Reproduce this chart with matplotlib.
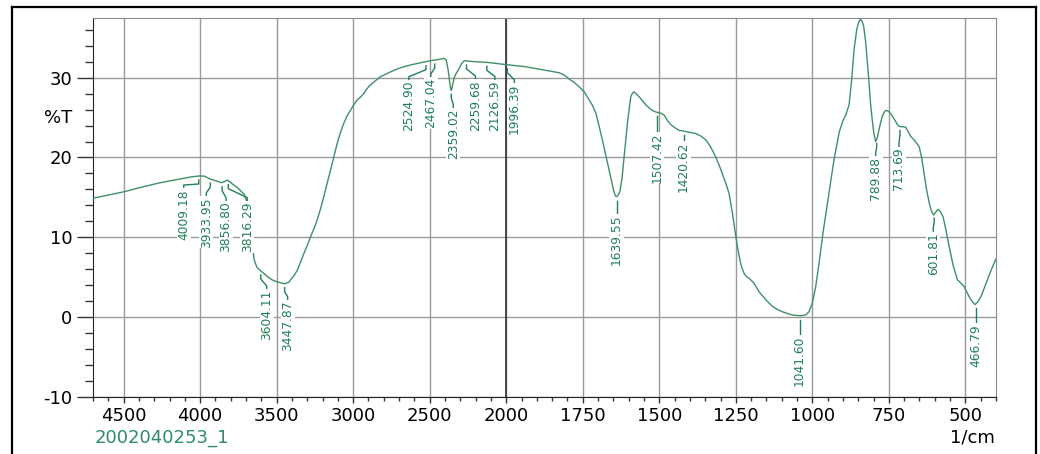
import numpy as np
import matplotlib
matplotlib.use('Agg')
import matplotlib.pyplot as plt
from matplotlib.lines import Line2D

# FTIR spectrum (wavenumber 1/cm, %T)
wavenumber = [4700, 4600, 4500, 4400, 4260, 4150, 4050, 4000, 3970, 3934,
              3900, 3870, 3857, 3840, 3825, 3816, 3790, 3755, 3712, 3686,
              3666, 3656, 3647, 3630, 3604, 3590, 3560, 3530, 3500, 3460,
              3448, 3420, 3409, 3387, 3365, 3344, 3322, 3300, 3278, 3256,
              3235, 3213, 3192, 3170, 3148, 3126, 3104, 3082, 3061, 3040,
              3018, 2996, 2974, 2950, 2931, 2910, 2887, 2855, 2822, 2790,
              2757, 2715, 2670, 2620, 2572, 2496, 2431, 2405, 2392, 2380,
              2370, 2363, 2359, 2352, 2340, 2325, 2311, 2290, 2274, 2214,
              2127, 2060, 1996, 1936, 1870, 1827, 1810, 1794, 1778, 1762,
              1745, 1729, 1718, 1707, 1697, 1686, 1675, 1664, 1655, 1648,
              1643, 1640, 1636, 1629, 1622, 1616, 1610, 1604, 1598, 1593,
              1587, 1582, 1575, 1566, 1555, 1544, 1533, 1523, 1512, 1501,
              1492, 1484, 1473, 1462, 1448, 1435, 1420, 1408, 1395, 1381,
              1365, 1348, 1332, 1316, 1300, 1283, 1272, 1261, 1250, 1240,
              1232, 1223, 1215, 1207, 1199, 1191, 1174, 1152, 1131, 1115,
              1098, 1082, 1066, 1052, 1038, 1022, 1011, 1000, 989, 978,
              964, 950, 940, 928, 912, 900, 890, 880, 872, 864,
              855, 848, 842, 836, 832, 826, 821, 815, 810, 804,
              799, 793, 789, 785, 778, 772, 765, 759, 752, 744,
              736, 728, 720, 712, 703, 695, 678, 665, 651, 643,
              635, 627, 618, 610, 604, 596, 590, 586, 580, 573,
              565, 553, 540, 526, 515, 504, 488, 478, 469, 460,
              449, 440, 428, 417, 406, 400]
transmittance = [14.9, 15.3, 15.7, 16.2, 16.85, 17.25, 17.6, 17.7, 17.65, 17.3,
                 17.1, 16.9, 16.85, 17.0, 17.15, 17.1, 16.7, 16.2, 15.4, 14.0,
                 11.5, 8.6, 7.2, 6.3, 5.8, 5.6, 5.1, 4.7, 4.45, 4.25,
                 4.2, 4.4, 4.7, 5.2, 5.9, 6.9, 8.0, 9.0, 10.1, 11.1,
                 12.2, 13.6, 15.1, 16.8, 18.4, 20.1, 21.8, 23.2, 24.3, 25.2,
                 25.9, 26.6, 27.2, 27.6, 28.0, 28.6, 29.1, 29.6, 30.1, 30.4,
                 30.7, 31.05, 31.35, 31.6, 31.8, 32.1, 32.3, 32.4, 32.2, 31.0,
                 29.5, 28.6, 28.4, 28.9, 30.0, 30.6, 31.0, 31.8, 32.1, 32.0,
                 31.9, 31.75, 31.6, 31.35, 30.9, 30.6, 30.3, 29.8, 29.4, 28.85,
                 28.2, 27.2, 26.5, 25.5, 24.0, 22.2, 20.3, 18.4, 16.8, 15.7,
                 15.2, 15.1, 15.2, 15.7, 17.3, 19.7, 22.0, 24.3, 26.2, 27.6,
                 28.1, 28.2, 27.95, 27.6, 27.1, 26.6, 26.2, 25.9, 25.7, 25.6,
                 25.5, 25.3, 24.6, 24.1, 23.7, 23.4, 23.3, 23.2, 23.1, 23.0,
                 22.7, 22.2, 21.3, 20.1, 18.6, 16.8, 15.5, 13.0, 10.1, 7.8,
                 6.4, 5.5, 5.1, 4.9, 4.6, 4.3, 3.2, 2.2, 1.4, 1.0,
                 0.7, 0.5, 0.3, 0.25, 0.2, 0.3, 0.7, 1.8, 3.85, 6.8,
                 10.9, 14.4, 17.0, 20.0, 23.2, 24.6, 25.4, 26.6, 29.5, 33.4,
                 36.0, 37.0, 37.3, 36.9, 36.35, 34.5, 32.2, 29.5, 26.8, 24.6,
                 23.0, 22.0, 22.3, 23.0, 24.2, 25.1, 25.7, 25.9, 25.8, 25.5,
                 25.0, 24.5, 24.0, 23.85, 23.85, 23.8, 22.6, 22.1, 21.35, 20.0,
                 18.0, 16.0, 14.3, 13.2, 12.8, 13.2, 13.5, 13.4, 13.1, 12.6,
                 11.2, 8.85, 6.5, 4.7, 4.3, 3.85, 2.6, 2.0, 1.6, 1.9,
                 2.6, 3.5, 4.7, 5.8, 6.8, 7.3]

peaks = [4009.18, 3933.95, 3856.80, 3816.29, 3604.11, 3447.87, 2524.90,
         2467.04, 2359.02, 2259.68, 2126.59, 1996.39, 1639.55, 1507.42,
         1420.62, 1041.60, 789.88, 713.69, 601.81, 466.79]

x_major = [4500, 4000, 3500, 3000, 2500, 2000, 1750, 1500, 1250, 1000, 750, 500]
y_major = [-10, 0, 10, 20, 30]
sample_name = '2002040253_1'

# label layout (pixels): sideways shift of the text, distance curve -> text top
label_dx = [-15, -4, 4, 19, 6, 3, -17, -4, 2, 9, 8, 7, 0, 0, 0, 0, -1, -1, -1, 0]
label_gap = [13, 18, 19, 21, 19, 17, 19, 18, 18, 19, 18, 19, 18, 20, 11, 20, 17, 21, 18, 20]

curve_color = '#3e9068'
label_color = '#1f7f55'
name_color = '#2e8b6e'

plt.rcParams['font.family'] = 'DejaVu Sans'


# Shimadzu style split axis: 500 per division above 2000, 250 below
def fwd(w):
    w = np.asarray(w, dtype=float)
    return np.where(w >= 2000, 8 + (w - 2000) / 500, w / 250)


def inv(u):
    u = np.asarray(u, dtype=float)
    return np.where(u >= 8, 2000 + (u - 8) * 500, u * 250)


W, H = 1040, 454
fig = plt.figure(figsize=(W / 100, H / 100), dpi=100)
ax = fig.add_axes([93 / W, 1 - 397.3 / H, (996 - 93) / W, (397.3 - 18) / H])

ax.set_xscale('function', functions=(fwd, inv))
ax.set_xlim(4700, 400)
ax.set_ylim(-10, 37.45)

ax.set_xticks(x_major, labels=[str(v) for v in x_major])
x_minor = list(range(4700, 2000, -100)) + list(range(1950, 399, -50))
ax.set_xticks(x_minor, minor=True)
ax.set_yticks(y_major, labels=[str(v) for v in y_major])
ax.set_yticks(list(range(-8, 37, 2)), minor=True)

ax.grid(True, which='major', color='#9a9a9a', lw=1)
ax.axvline(2000, color='#333333', lw=1.2, zorder=1.5)
ax.set_axisbelow(True)

ax.tick_params(axis='y', which='major', length=11.5, width=1, pad=3.5,
               labelsize=13, color='#333333')
ax.tick_params(axis='y', which='minor', length=6, width=1, color='#333333')
ax.tick_params(axis='x', which='major', length=4, width=1, pad=3,
               labelsize=13, color='#333333')
ax.tick_params(axis='x', which='minor', length=3, width=1, color='#333333')

for side in ['top', 'right']:
    ax.spines[side].set_color('#8a8a8a')
for side in ['left', 'bottom']:
    ax.spines[side].set_color('#222222')

ax.plot(wavenumber, transmittance, color=curve_color, lw=1.0, zorder=3)

# peak labels with leader lines
wn_sorted = wavenumber[::-1]
t_sorted = transmittance[::-1]
to_data = ax.transData.inverted()
for wn, dx, gap in zip(peaks, label_dx, label_gap):
    t = np.interp(wn, wn_sorted, t_sorted)
    xp, yp = ax.transData.transform((wn, t))
    if dx == 0:
        pts = [(xp, yp - 4), (xp, yp - gap + 1)]
    else:
        pts = [(xp, yp - 4), (xp, yp - min(8, gap - 5)),
               (xp + dx, yp - gap + 4), (xp + dx, yp - gap + 1)]
    d = to_data.transform(pts)
    ax.plot(d[:, 0], d[:, 1], color=label_color, lw=1, zorder=4)
    tx, ty = to_data.transform((xp + dx, yp - gap))
    ax.text(tx, ty, f'{wn:.2f}', rotation=90, ha='center', va='top',
            fontsize=8.8, color=label_color, zorder=5,
            bbox=dict(boxstyle='square,pad=0.05', fc='white', ec='none'))

fig.text(72 / W, 1 - 118 / H, '%T', ha='right', va='center', fontsize=13)
fig.text(995 / W, 1 - 438 / H, '1/cm', ha='right', va='center', fontsize=13)
fig.text(95 / W, 1 - 438 / H, sample_name, ha='left', va='center',
         fontsize=13, color=name_color)

# outer frame of the printout
fx0, fx1, fy1 = 12 / W, 1036 / W, 1 - 7 / H
for xs, ys in [([fx0, fx0], [0, fy1]), ([fx0, fx1], [fy1, fy1]), ([fx1, fx1], [fy1, 0])]:
    fig.add_artist(Line2D(xs, ys, color='black', lw=1.6, transform=fig.transFigure))

fig.savefig('out.png', dpi=100)
